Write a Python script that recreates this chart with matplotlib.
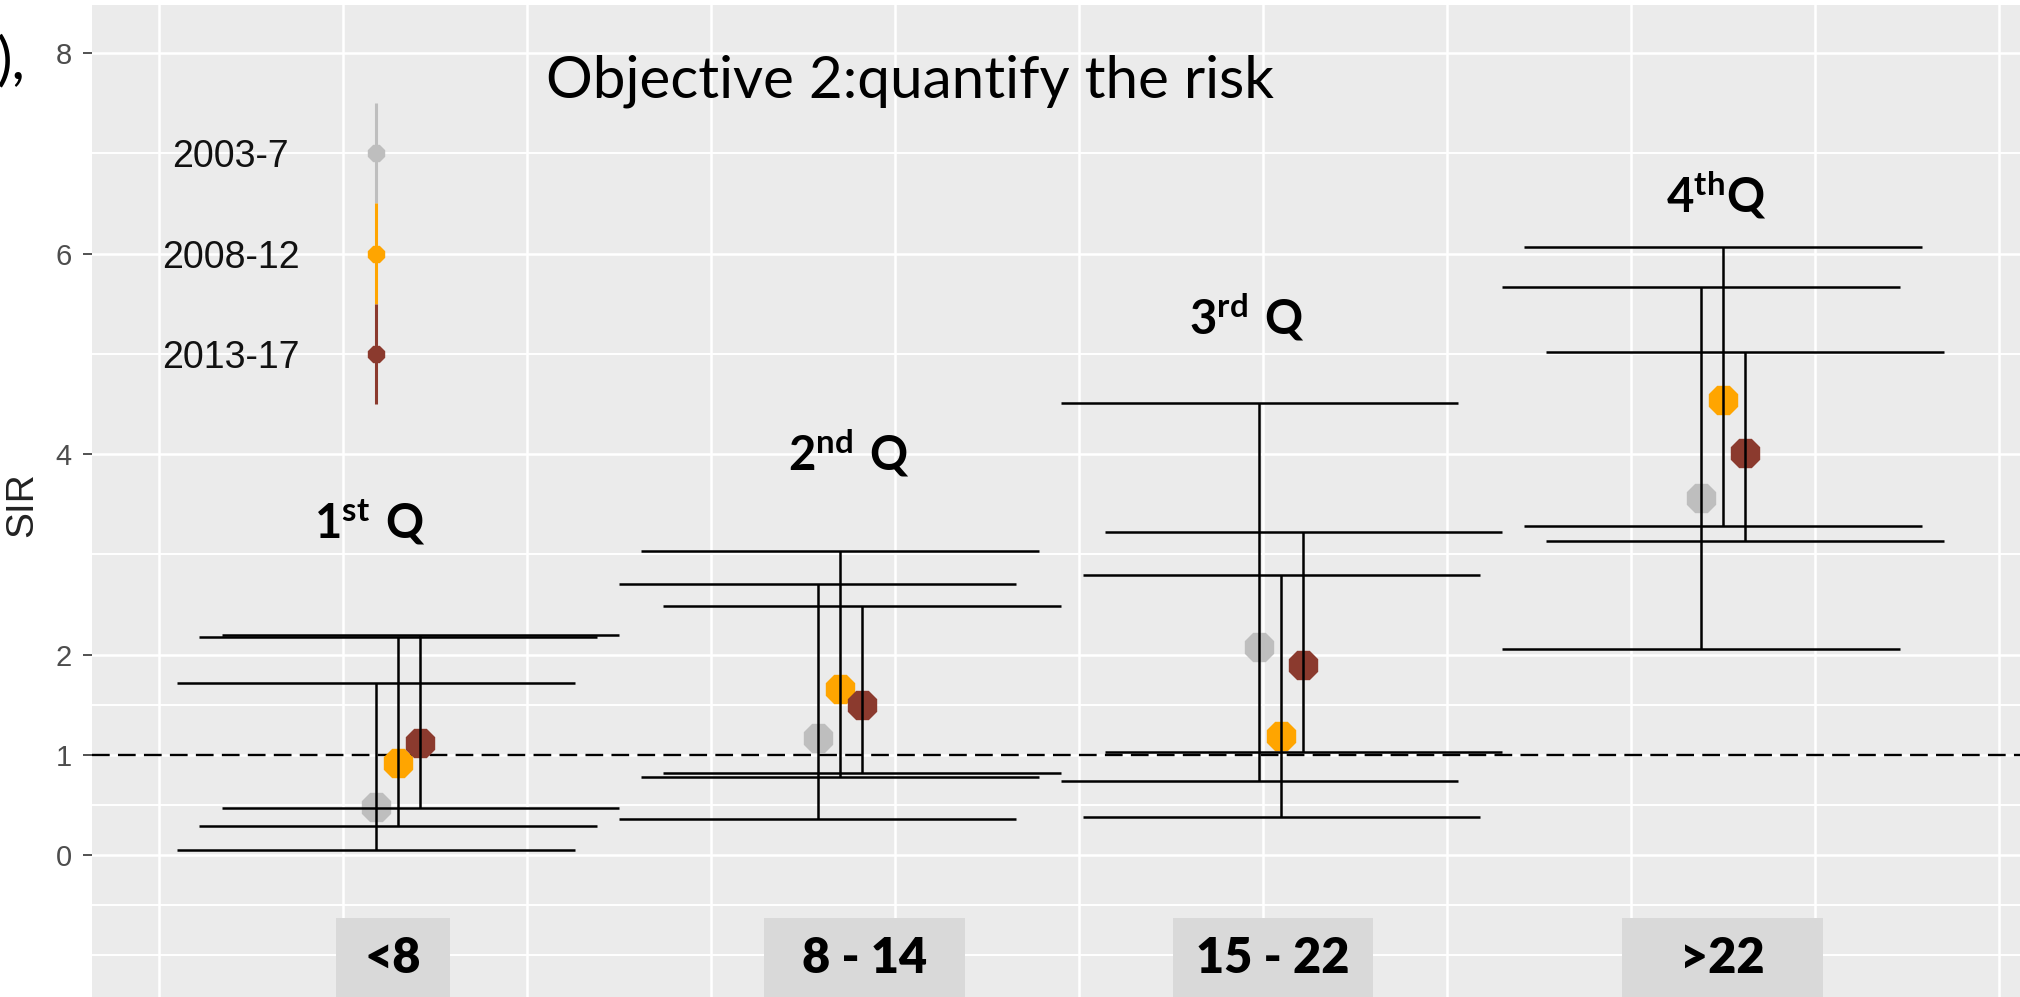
import matplotlib.pyplot as plt
from matplotlib.patches import Rectangle
import numpy as np

plt.rcParams['mathtext.fontset'] = 'custom'
plt.rcParams['mathtext.rm'] = 'Lato'
plt.rcParams['mathtext.bf'] = 'Lato:bold'

periods = ['2003-7', '2008-12', '2013-17']
colors = ['#BEBEBE', '#FFA500', '#8B3A2E']
groups = ['<8', '8 - 14', '15 - 22', '>22']
quartiles = [r'$\mathbf{1^{st}\ Q}$', r'$\mathbf{2^{nd}\ Q}$',
             r'$\mathbf{3^{rd}\ Q}$', r'$\mathbf{4^{th}Q}$']

# SIR and its confidence limits for every period, one value per group
sir_0307 = [0.48, 1.17, 2.08, 3.56]
low_0307 = [0.05, 0.36, 0.74, 2.06]
upp_0307 = [1.72, 2.70, 4.51, 5.67]

sir_0812 = [0.92, 1.66, 1.19, 4.54]
low_0812 = [0.29, 0.78, 0.38, 3.28]
upp_0812 = [2.17, 3.03, 2.79, 6.07]

sir_1317 = [1.12, 1.50, 1.90, 4.01]
low_1317 = [0.47, 0.82, 1.03, 3.13]
upp_1317 = [2.19, 2.48, 3.22, 5.02]

sir = [sir_0307, sir_0812, sir_1317]
low = [low_0307, low_0812, low_1317]
upp = [upp_0307, upp_0812, upp_1317]

# little key drawn inside the panel
key_sir = [7, 6, 5]

group_x = np.array([1.3, 3.7, 6.1, 8.5])
dodge = [-0.12, 0.0, 0.12]
cap = 1.08

fig = plt.figure(figsize=(20.2, 9.97), dpi=100)
ax = fig.add_axes([92 / 2020, 0, 1 - 92 / 2020, 992 / 997])
ax.set_facecolor('#EBEBEB')
for s in ax.spines.values():
    s.set_visible(False)

ax.set_xlim(-0.364, 10.114)
ax.set_ylim(-1.416, 8.479)

ax.set_xticks(range(0, 11))
ax.set_xticklabels([])
ax.tick_params(axis='x', length=0)
ax.set_yticks([0, 1, 2, 4, 6, 8])
ax.set_yticks([-1, -0.5, 0.5, 1.5, 3, 5, 7], minor=True)
ax.tick_params(axis='y', which='major', length=6.5, width=1.2, color='#333333',
               labelsize=21, labelcolor='#4D4D4D', pad=8)
ax.tick_params(axis='y', which='minor', length=0)
for lab in ax.get_yticklabels():
    lab.set_family('Liberation Sans')
ax.grid(which='major', color='white', lw=1.8)
ax.grid(which='minor', axis='y', color='white', lw=1.4)
ax.set_axisbelow(True)

ax.axhline(1, color='black', lw=1.7, ls=(0, (7.5, 3.5)), zorder=2)

# points first, error bars drawn over them
for i in range(3):
    x = group_x + dodge[i]
    ax.plot(x, sir[i], marker='8', ms=22, ls='none', color=colors[i], zorder=3)
for i in range(3):
    x = group_x + dodge[i]
    ax.vlines(x, low[i], upp[i], color='black', lw=1.8, zorder=4)
    ax.hlines(low[i], x - cap, x + cap, color='black', lw=1.8, zorder=4)
    ax.hlines(upp[i], x - cap, x + cap, color='black', lw=1.8, zorder=4)

# key: coloured point ranges with the period names
key_x = group_x[0] + dodge[0]
for i in range(3):
    ax.vlines(key_x, key_sir[i] - 0.5, key_sir[i] + 0.5, color=colors[i], lw=2.2, zorder=3)
    ax.plot(key_x, key_sir[i], marker='8', ms=13, color=colors[i], zorder=4)
    ax.text(0.39, key_sir[i] - 0.14, periods[i], ha='center', va='baseline',
            fontsize=27, family='Liberation Sans', color='#111111')

ax.set_ylabel('SIR', fontsize=28, family='Liberation Sans', color='#222222')
ax.yaxis.set_label_coords(-0.027, 0.496)

# quartile headings above each group
q_x = [0.84, 3.42, 5.60, 8.19]
q_y = [3.16, 3.84, 5.19, 6.41]
for i in range(4):
    ax.text(q_x[i], q_y[i], quartiles[i], ha='left', va='baseline', fontsize=34)

# group labels in grey boxes at the bottom
box_x = [1.272, 3.834, 6.054, 8.497]
box_w = [0.62, 1.09, 1.09, 1.09]
for i in range(4):
    ax.add_patch(Rectangle((box_x[i] - box_w[i] / 2, -1.42), box_w[i], 0.79,
                           facecolor='#D9D9D9', edgecolor='none', zorder=5))
    ax.text(box_x[i], -1.176, groups[i], ha='center', va='baseline', fontsize=35,
            family='Lato', weight='heavy', zorder=6)

fig.text(0.2703, 1 - 98 / 997, 'Objective 2:quantify the risk', ha='left', va='baseline',
         fontsize=42, family='Lato')
fig.text(25 / 2020, 1 - 78 / 997, '),', ha='right', va='baseline', fontsize=42,
         family='Lato')

fig.savefig('out.png', dpi=100)
